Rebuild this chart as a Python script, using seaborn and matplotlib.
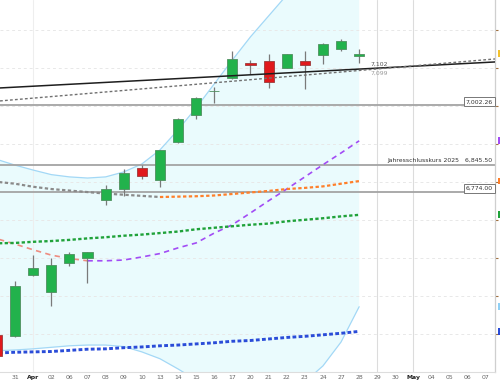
import numpy as np
import pandas as pd
import matplotlib
matplotlib.use("Agg")
import matplotlib.pyplot as plt
import seaborn as sns
from matplotlib.transforms import blended_transform_factory
from matplotlib.patches import Rectangle

sns.set_theme(style="white")
plt.rcParams['font.family'] = ['DejaVu Sans']

# ---------------- data ----------------
day_labels = ["31", "Apr", "02", "06", "07", "08", "09", "10", "13", "14", "15", "16", "17",
              "20", "21", "22", "23", "24", "27", "28", "29", "30", "May", "04", "05", "06", "07"]

idx = list(range(-1, 20))  # trading-day index (-1 = 30 Mar, 0 = 31 Mar ...)
c_open  = [6398, 6395, 6556, 6512, 6588, 6600, 6753, 6782, 6838, 6806, 6907, 6977, 7039,
           7074, 7115, 7120, 7102, 7118, 7134, 7151, 7133]
c_high  = [6403, 6540, 6608, 6600, 6617, 6617, 6793, 6834, 6845, 6886, 6969, 7025, 7050,
           7146, 7122, 7137, 7139, 7146, 7168, 7178, 7150]
c_low   = [6337, 6393, 6554, 6474, 6578, 6534, 6740, 6764, 6808, 6788, 6903, 6966, 7008,
           7072, 7085, 7049, 7100, 7045, 7111, 7146, 7115]
c_close = [6342, 6527, 6575, 6582, 6611, 6615, 6782, 6824, 6816, 6885, 6967, 7021, 7041,
           7124, 7108, 7063, 7137, 7108, 7163, 7173, 7138]

bb_mid   = [6651, 6637, 6622, 6608, 6599, 6593, 6593, 6595, 6603, 6612, 6627, 6640, 6666,
            6688, 6719, 6751, 6782, 6814, 6846, 6877, 6909]
bb_upper = [6860, 6845, 6832, 6820, 6814, 6811, 6814, 6827, 6848, 6885, 6938, 6996, 7059,
            7122, 7183, 7238, 7293, 7346, 7386, 7412, 7425]
bb_lower = [6356, 6358, 6361, 6365, 6369, 6371, 6371, 6367, 6353, 6335, 6308, 6279, 6240,
            6200, 6174, 6187, 6227, 6274, 6316, 6379, 6472]
ma_mid   = [6801, 6796, 6788, 6782, 6778, 6774, 6770, 6767, 6764, 6761, 6762, 6763, 6765,
            6769, 6773, 6777, 6782, 6785, 6789, 6796, 6803]
ma_green = [6639, 6640, 6643, 6645, 6648, 6652, 6655, 6659, 6662, 6666, 6670, 6676, 6680,
            6684, 6688, 6691, 6697, 6701, 6705, 6710, 6714]
ma_blue  = [6350, 6352, 6353, 6354, 6357, 6360, 6361, 6364, 6366, 6369, 6371, 6374, 6377,
            6381, 6383, 6387, 6391, 6394, 6398, 6402, 6407]

trend_x = [-0.83, 26.5]
trend_solid = [7048.3, 7116.8]
trend_dotted = [7014.1, 7124.7]

h_levels = [7002.26, 6845.50, 6774.00]
h_texts = ["7,002.26", "Jahresschlusskurs 2025   6,845.50", "6,774.00"]
h_boxed = [True, False, True]

# ---------------- figure ----------------
fig = plt.figure(figsize=(5, 3.83), dpi=100)
fig.patch.set_facecolor("white")
ax = fig.add_axes([0, 11 / 383, 495 / 500, 372 / 383])
ax.set_facecolor("white")
ax.set_xlim(-0.83, 26.5)
ax.set_ylim(6300, 7280)

FS = 4.4

# horizontal grid
for g in range(6400, 7300, 100):
    ax.axhline(g, color="#e8e8e8", lw=0.7, ls=(0, (3, 3)), zorder=0.5)
# vertical grid
ax.axvline(1, color="#eeeeee", lw=0.8, zorder=0.5)
ax.axvline(20, color="#dcdcdc", lw=0.8, zorder=0.5)
ax.axvline(22, color="#dcdcdc", lw=0.8, zorder=0.5)

# Bollinger band
ax.fill_between(idx, bb_lower, bb_upper, color="#eafbfd", lw=0, zorder=0.3)
sns.lineplot(x=idx, y=bb_upper, ax=ax, color="#a3d8f6", lw=0.9, zorder=1)
sns.lineplot(x=idx, y=bb_lower, ax=ax, color="#a3d8f6", lw=0.9, zorder=1)

# horizontal levels
trans = blended_transform_factory(ax.transAxes, ax.transData)
for lvl, txt, boxed in zip(h_levels, h_texts, h_boxed):
    ax.axhline(lvl, color="#a4a4a4", lw=1.3, zorder=1.2)
    if boxed:
        ax.text(0.996, lvl + 3, txt, transform=trans, ha="right", va="bottom", fontsize=FS,
                color="#333333", zorder=6,
                bbox=dict(boxstyle="square,pad=0.3", fc="white", ec="#777777", lw=0.7))
    else:
        ax.text(0.994, lvl + 5, txt, transform=trans, ha="right", va="bottom", fontsize=FS,
                color="#333333", zorder=6)

# moving averages
n_turn = 5  # middle band: falling until here (salmon), then rising (purple)
sns.lineplot(x=idx[:n_turn + 1], y=bb_mid[:n_turn + 1], ax=ax, color="#ee8c80", lw=1.2,
             linestyle=(0, (3.2, 2.6)), zorder=2)
sns.lineplot(x=idx[n_turn:], y=bb_mid[n_turn:], ax=ax, color="#a24cf5", lw=1.2,
             linestyle=(0, (3.2, 2.6)), zorder=2)
m_turn = 9
sns.lineplot(x=idx[:m_turn + 1], y=ma_mid[:m_turn + 1], ax=ax, color="#8a8a8a", lw=1.6,
             linestyle=(0, (1.5, 1.1)), zorder=2)
sns.lineplot(x=idx[m_turn:], y=ma_mid[m_turn:], ax=ax, color="#ff7f2a", lw=1.6,
             linestyle=(0, (1.5, 1.1)), zorder=2)
sns.lineplot(x=idx, y=ma_green, ax=ax, color="#20a23a", lw=1.7,
             linestyle=(0, (1.4, 1.0)), zorder=2)
sns.lineplot(x=idx, y=ma_blue, ax=ax, color="#2a4cd8", lw=2.1,
             linestyle=(0, (1.3, 0.8)), zorder=2)

# candles
df = pd.DataFrame(dict(i=idx, o=c_open, h=c_high, l=c_low, c=c_close))
up = df.c >= df.o
ax.vlines(df.i, df.l, df.h, color="#7a7a7a", lw=0.9, zorder=3)
body_lo = np.minimum(df.o, df.c)
body_h = np.maximum(np.abs(df.c - df.o), 2.5)
ax.bar(df.i[up], body_h[up], bottom=body_lo[up], width=0.56, color="#22b24c",
       edgecolor="#4f8f5f", lw=0.6, zorder=4)
ax.bar(df.i[~up], body_h[~up], bottom=body_lo[~up], width=0.56, color="#e0191c",
       edgecolor="#9c3a3a", lw=0.6, zorder=4)

# trend lines
sns.lineplot(x=trend_x, y=trend_solid, ax=ax, color="#1e1e1e", lw=1.1, zorder=5)
sns.lineplot(x=trend_x, y=trend_dotted, ax=ax, color="#707070", lw=1.0,
             linestyle=(0, (2.0, 1.6)), zorder=5)
ax.text(19.65, 7112, "7,102", fontsize=FS, color="#555555", va="center", ha="left", zorder=6)
ax.text(19.65, 7087, "7,099", fontsize=FS, color="#9a9a9a", va="center", ha="left", zorder=6)

# right edge markers for last values
last_vals = [c_close[-1], bb_mid[-1], ma_mid[-1], ma_green[-1], bb_lower[-1], ma_blue[-1]]
last_cols = ["#f2c12e", "#a24cf5", "#ff7f2a", "#20a23a", "#8fd0f5", "#2a4cd8"]
for v, col in zip(last_vals, last_cols):
    ax.add_patch(Rectangle((1.006, v - 9), 0.02, 18, transform=trans, clip_on=False,
                           facecolor=col, edgecolor="none", zorder=6))

# axes styling
ax.set_xticks(range(len(day_labels)))
ax.set_xticklabels(day_labels)
for lab in ax.get_xticklabels():
    if lab.get_text() in ("Apr", "May"):
        lab.set_fontweight("bold")
        lab.set_color("#222222")
    else:
        lab.set_color("#666666")
ax.tick_params(axis="x", labelsize=FS, length=0, pad=2)
ax.yaxis.tick_right()
ax.set_yticks(range(6400, 7300, 100))
ax.tick_params(axis="y", length=2.5, width=0.8, color="#a07040", labelright=False, labelleft=False)
for s in ("top", "left"):
    ax.spines[s].set_visible(False)
ax.spines["right"].set_color("#cfcfcf")
ax.spines["right"].set_linewidth(0.9)
ax.spines["bottom"].set_color("#dddddd")
ax.spines["bottom"].set_linewidth(0.8)
ax.set_xlabel("")
ax.set_ylabel("")

fig.savefig("out.png", dpi=100)
